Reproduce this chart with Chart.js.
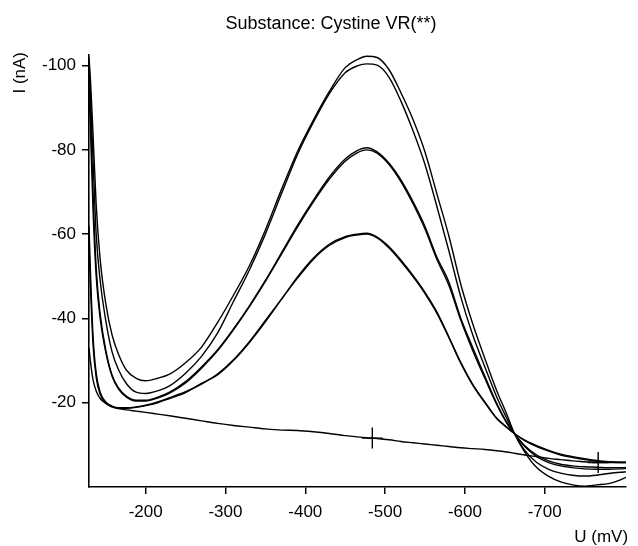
<!DOCTYPE html>
<html>
<head>
<meta charset="utf-8">
<script src="https://cdn.jsdelivr.net/npm/chart.js@4.4.0/dist/chart.umd.min.js"></script>
<style>
  html, body { margin: 0; padding: 0; background: #fff; }
  #wrap { width: 638px; height: 546px; position: relative; }
</style>
</head>
<body>
<div id="wrap"><canvas id="vrChart"></canvas></div>
<script>
const chartTitle = 'Substance: Cystine VR(**)';
const xTitle = 'U (mV)';
const yTitle = 'I (nA)';

const xTicks = [-200, -300, -400, -500, -600, -700];
const yTicks = [-100, -80, -60, -40, -20];

// potential grid (mV), shared by all recorded curves
const voltage = [-129,-131,-134,-138,-143,-150,-158,-166,-176,-188,-200,-215,-230,-250,-270,-290,-310,-330,-350,-370,
  -390,-410,-430,-450,-465,-477,-490,-505,-520,-535,-550,-565,-580,-595,-610,-625,-640,-652,-662,-675,
  -690,-705,-720,-735,-750,-765,-780,-795,-802];

// current (nA) for each curve
const currentA1 = [-102,-96,-84,-67,-54,-43.5,-36,-31.5,-27.7,-25.8,-25.2,-25.8,-26.8,-29.5,-33.2,-39,-45.5,-52.5,-61,-70.5,
  -79.5,-87,-93.8,-99.5,-101.4,-102.2,-101.9,-99,-93.5,-87.2,-79.5,-69.5,-59.5,-48,-38.6,-30.5,-22.8,-17.5,-12.7,-8.3,
  -4.6,-2.5,-1.2,-0.5,-0.2,-0.5,-0.8,-1.7,-2.3];
const currentA2 = [-100.5,-92,-78,-60,-49,-39.5,-32,-27.8,-24.5,-22.5,-22.2,-22.8,-24,-27,-31,-36.5,-44,-51.5,-60,-69.5,
  -78.8,-86.5,-93.3,-98.3,-99.9,-100.4,-100.1,-97.2,-91.5,-84.5,-76.5,-66.5,-56,-45,-36,-28.5,-21.3,-16.5,-12.7,-8.7,
  -5.8,-4.2,-3.3,-2.8,-2.6,-2.8,-3.2,-3.5,-3.6];
const currentB1 = [-98,-88,-70,-52,-41,-32.5,-26.5,-23.5,-21.5,-20.6,-20.6,-21.3,-22.5,-25,-28.5,-32.5,-37.5,-43,-49,-55.5,
  -62,-68,-73.5,-77.8,-79.8,-80.5,-79.5,-76.8,-72.8,-67.7,-61.8,-54.5,-48.6,-40,-33,-26.3,-19.8,-15.5,-12.7,-9.8,
  -7.6,-6.2,-5.4,-5,-4.8,-4.7,-4.6,-4.6,-4.6];
const currentB2 = [-95,-84,-66,-50,-40,-32,-26.2,-23.2,-21.3,-20.4,-20.4,-21.1,-22.3,-24.7,-28.2,-32.3,-37.3,-42.8,-48.8,-55.2,
  -61.6,-67.6,-73,-77.3,-79.3,-80,-79.2,-76.5,-72.4,-67.2,-61.2,-54,-47.8,-39.5,-32.3,-25.8,-19.5,-15.3,-12.7,-9.6,
  -7.2,-5.8,-5,-4.6,-4.3,-4.2,-4.2,-4.3,-4.4];
const currentC1 = [-62,-50,-36,-27,-22.5,-20.2,-19.2,-18.8,-18.8,-19,-19.4,-20.2,-21.2,-22.6,-24.4,-26.8,-30.2,-34.5,-39.5,-44.5,
  -49.8,-54.3,-57.6,-59.4,-60,-60.2,-59.3,-57,-53.8,-50.2,-46.2,-41.5,-35.6,-29.5,-24.3,-20.2,-16.3,-14.3,-12.7,-11,
  -9.6,-8.5,-7.6,-7,-6.5,-6.1,-5.9,-5.8,-5.8];
const currentC2 = [-58,-47,-34,-26,-22,-19.9,-19,-18.7,-18.7,-18.9,-19.3,-20,-21,-22.4,-24.6,-26.6,-30,-34.3,-39.2,-44.5,
  -49.5,-54,-57.3,-59.2,-59.8,-60,-59.1,-56.7,-53.5,-49.9,-45.9,-41.2,-35.4,-29.3,-24.1,-20,-16.2,-14.2,-12.7,-11.1,
  -9.8,-8.7,-7.8,-7.2,-6.7,-6.3,-6,-5.9,-5.9];
const blank = [-33,-29.5,-25.5,-22.8,-21,-19.8,-19,-18.6,-18.3,-18,-17.7,-17.3,-16.9,-16.3,-15.7,-15.1,-14.6,-14.2,-13.8,-13.5,
  -13.4,-13.1,-12.7,-12.2,-11.9,-11.7,-11.5,-11.2,-10.8,-10.5,-10.2,-9.9,-9.6,-9.3,-9.1,-8.9,-8.6,-8.3,-8,-7.6,
  -7.2,-6.8,-6.5,-6.2,-6,-5.8,-5.8,-5.8,-5.8];

// cursor marks
const markerU = [-484, -767];
const markerI = [-11.6, -5.8];

const curves = [currentA1, currentA2, currentB1, currentB2, currentC1, currentC2, blank];
const FONT = '"Liberation Sans", Arial, sans-serif';

const textPlugin = {
  id: 'textLabels',
  afterDraw(chart) {
    const ctx = chart.ctx, a = chart.chartArea;
    ctx.save();
    ctx.fillStyle = '#000';
    ctx.textBaseline = 'middle';
    ctx.font = '18px ' + FONT;
    ctx.textAlign = 'center';
    ctx.fillText(chartTitle, 331, 24);
    ctx.font = '17px ' + FONT;
    ctx.textAlign = 'right';
    ctx.fillText(xTitle, a.right + 2, 537);
    ctx.translate(20, 52);
    ctx.rotate(-Math.PI / 2);
    ctx.textAlign = 'right';
    ctx.fillText(yTitle, 0, 0);
    ctx.restore();
  }
};

function initChart() {
  const datasets = curves.map(c => ({
    data: voltage.map((u, i) => ({ x: u, y: c[i] })),
    borderColor: '#000', borderWidth: 1.4, pointRadius: 0,
    cubicInterpolationMode: 'monotone', fill: false
  }));
  datasets.push({
    data: markerU.map((u, i) => ({ x: u, y: markerI[i] })),
    showLine: false, pointStyle: 'cross', pointRadius: 10.5,
    borderColor: '#000', borderWidth: 1.4, backgroundColor: '#000'
  });

  new Chart(document.getElementById('vrChart').getContext('2d'), {
    type: 'line',
    data: { datasets },
    options: {
      responsive: true, maintainAspectRatio: false, animation: false,
      layout: { padding: { top: 55, right: 5, left: 0, bottom: 0 } },
      plugins: { legend: { display: false }, tooltip: { enabled: false }, title: { display: false } },
      scales: {
        x: {
          type: 'linear', reverse: true, min: -802, max: -129,
          afterBuildTicks: s => { s.ticks = xTicks.map(v => ({ value: v })); },
          afterFit: s => { s.height = 59; },
          grid: { drawOnChartArea: false, drawTicks: true, tickLength: 7, color: '#000', lineWidth: 1.5 },
          border: { display: true, color: '#000', width: 1.6 },
          ticks: { color: '#000', font: { family: FONT, size: 17 }, padding: 8, maxRotation: 0 }
        },
        y: {
          type: 'linear', reverse: true, min: -102.5, max: 0,
          afterBuildTicks: s => { s.ticks = yTicks.map(v => ({ value: v })); },
          afterFit: s => { s.width = 89; },
          grid: { drawOnChartArea: false, drawTicks: true, tickLength: 7, color: '#000', lineWidth: 1.5 },
          border: { display: true, color: '#000', width: 1.6 },
          ticks: { color: '#000', font: { family: FONT, size: 17 }, padding: 6 }
        }
      }
    },
    plugins: [textPlugin]
  });
}

document.addEventListener('DOMContentLoaded', initChart);
</script>
</body>
</html>
